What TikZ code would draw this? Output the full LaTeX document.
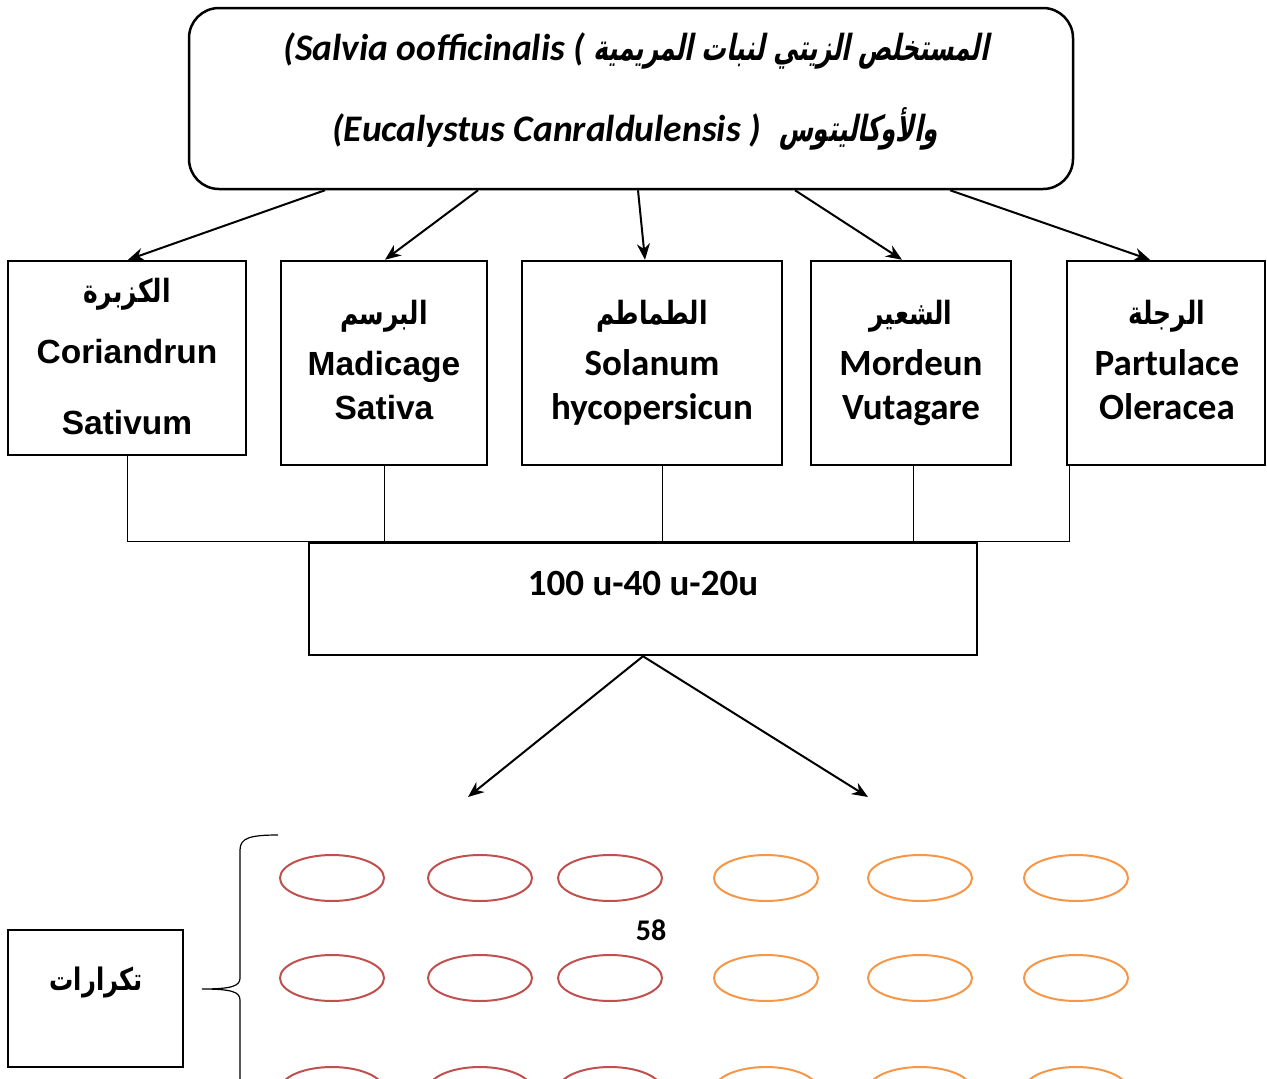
\documentclass[tikz,border=0pt]{standalone}
\usepackage{fontspec}
\setmainfont{Carlito}
\newfontfamily\arialf{Liberation Sans}
\newfontfamily\arabicfont[Script=Arabic,FakeStretch=0.78]{DejaVu Sans}
\newfontfamily\arabicsl[Script=Arabic,FakeSlant=0.2,FakeStretch=0.68]{DejaVu Sans}
\TeXXeTstate=1
\usetikzlibrary{calc,arrows.meta,shapes.geometric}
\definecolor{redc}{RGB}{192,80,77}
\definecolor{orgc}{RGB}{247,150,70}
\tikzset{
  box/.style={draw,line width=2.5pt,inner sep=0pt},
  lbl/.style={anchor=base,inner sep=0pt,font=\fontsize{37}{40}\selectfont\bfseries},
  arlbl/.style={anchor=base,inner sep=0pt,font=\fontsize{33.5}{36}\selectfont\arialf\bfseries},
  albl/.style={anchor=base,inner sep=0pt,font=\fontsize{32}{36}\selectfont\arabicfont\bfseries},
  ttl/.style={anchor=base,inner sep=0pt,font=\fontsize{37.5}{40}\selectfont\bfseries\itshape},
  arr/.style={line width=2pt,-{Stealth[length=16pt,width=13pt]}},
  thinline/.style={line width=0.9pt},
  redell/.style={draw=redc,line width=2pt,ellipse,minimum width=104pt,minimum height=46pt,inner sep=0pt},
  orgell/.style={draw=orgc,line width=2pt,ellipse,minimum width=104pt,minimum height=46pt,inner sep=0pt}
}
\begin{document}
\begin{tikzpicture}[x=1pt,y=-1pt]
\useasboundingbox (0,0) rectangle (1267,1079);
% top box
\node[box,rounded corners=30pt,minimum width=884pt,minimum height=181pt] (top) at (631,98.5) {};
\node[ttl] (t1) at (636,60)
  {(Salvia oofficinalis ( {\fontsize{36}{40}\selectfont\arabicsl\bfseries\upshape\beginR المستخلص الزيتي لنبات المريمية\endR}};
\node[ttl] (t2) at (635,141)
  {(Eucalystus Canraldulensis )\hspace{18pt}{\fontsize{36}{40}\selectfont\arabicsl\bfseries\upshape\beginR والأوكاليتوس\endR}};
% five boxes
\node[box,minimum width=238pt,minimum height=194pt] (b1) at (127,358) {};
\node[box,minimum width=206pt,minimum height=204pt] (b2) at (384,363) {};
\node[box,minimum width=260pt,minimum height=204pt] (b3) at (652,363) {};
\node[box,minimum width=200pt,minimum height=204pt] (b4) at (911,363) {};
\node[box,minimum width=198pt,minimum height=204pt] (b5) at (1166,363) {};
% box texts
\node[albl] (a1) at (127,302) {\beginR الكزبرة\endR};
\node[arlbl] (l1a) at (127,363) {Coriandrun};
\node[arlbl] (l1b) at (127,434) {Sativum};
\node[albl] (a2) at (384,324) {\beginR البرسم\endR};
\node[arlbl] (l2a) at (384,375) {Madicage};
\node[arlbl] (l2b) at (384,419) {Sativa};
\node[albl] (a3) at (652,324) {\beginR الطماطم\endR};
\node[lbl] (l3a) at (652,375) {Solanum};
\node[lbl] (l3b) at (652,419) {hycopersicun};
\node[albl] (a4) at (911,324) {\beginR الشعير\endR};
\node[lbl] (l4a) at (911,375) {Mordeun};
\node[lbl] (l4b) at (911,419) {Vutagare};
\node[albl] (a5) at (1167,324) {\beginR الرجلة\endR};
\node[lbl] (l5a) at (1167,375) {Partulace};
\node[lbl] (l5b) at (1167,419) {Oleracea};
% arrows from top box
\draw[arr] ($(top.south)+(-306,0)$) -- ($(b1.north)+(1,0)$);
\draw[arr] ($(top.south)+(-153,0)$) -- ($(b2.north)+(1,0)$);
\draw[arr] ($(top.south)+(7,0)$) -- ($(b3.north)+(-7,0)$);
\draw[arr] ($(top.south)+(164,0)$) -- ($(b4.north)+(-9,0)$);
\draw[arr] ($(top.south)+(319,0)$) -- ($(b5.north)+(-16,0)$);
% middle box
\node[box,minimum width=668pt,minimum height=112pt] (mid) at (643,599) {};
\node[lbl] (midt) at (643,595) {100 u-40 u-20u};
% collector lines
\coordinate (c1) at (b1.south);
\coordinate (c2) at (b2.south);
\coordinate (c3) at ($(b3.south)+(10,0)$);
\coordinate (c4) at ($(b4.south)+(2,0)$);
\coordinate (c5) at ($(b5.south west)+(4,0)$);
\draw[thinline] (c1) -- (c1 |- mid.north);
\draw[thinline] (c2) -- (c2 |- mid.north);
\draw[thinline] (c3) -- (c3 |- mid.north);
\draw[thinline] (c4) -- (c4 |- mid.north);
\draw[thinline] (c5) -- (c5 |- mid.north);
\draw[thinline] (c1 |- mid.north) -- (c5 |- mid.north);
% arrows down
\coordinate (d1) at (468,797);
\coordinate (d2) at (868,797);
\draw[arr] (mid.south) -- (d1);
\draw[arr] (mid.south) -- (d2);
% ellipses
\foreach \r/\yy in {1/878,2/978,3/1090}{
  \node[redell] (r\r a) at (332,\yy) {};
  \node[redell] (r\r b) at (480,\yy) {};
  \node[redell] (r\r c) at (610,\yy) {};
  \node[orgell] (o\r a) at (766,\yy) {};
  \node[orgell] (o\r b) at (920,\yy) {};
  \node[orgell] (o\r c) at (1076,\yy) {};
}
\node[lbl,font=\fontsize{30}{34}\selectfont\bfseries] (n58) at (651,940) {58};
% repetitions box and brace
\node[box,minimum width=175pt,minimum height=137pt] (rep) at (95.5,998.5) {};
\node[albl,font=\fontsize{31}{34}\selectfont\arabicfont\bfseries] (rept) at (96,990) {\beginR تكرارات\endR};
\draw[line width=1.2pt] (278,835) .. controls (250,835) and (240,838) .. (240,850) -- (240,978)
  .. controls (240,986) and (232,989) .. (202,989)
  .. controls (232,989) and (240,992) .. (240,1000) -- (240,1100);
\end{tikzpicture}
\end{document}
